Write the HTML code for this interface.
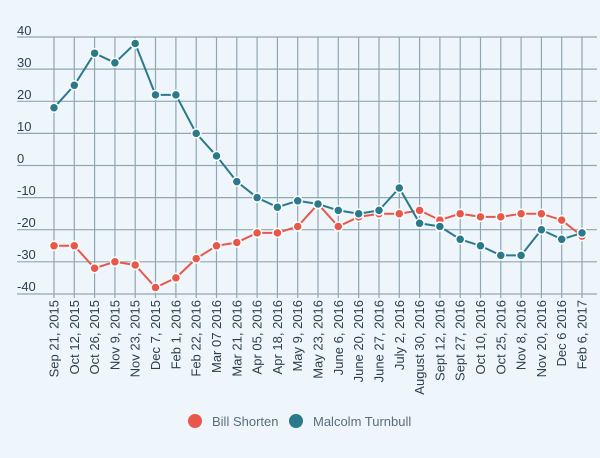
<!DOCTYPE html>
<html><head><style>body{margin:0;background:#eef6fc}svg{display:block;font-family:"Liberation Sans",sans-serif}</style></head>
<body>
<svg width="600" height="458" viewBox="0 0 600 458">
<rect width="600" height="458" fill="#eef6fc"/>
<g stroke="#8fa7b3" stroke-width="1.2">
<line x1="17" x2="597" y1="37" y2="37"/><line x1="17" x2="597" y1="69.1" y2="69.1"/><line x1="17" x2="597" y1="101.3" y2="101.3"/><line x1="17" x2="597" y1="133.4" y2="133.4"/><line x1="17" x2="597" y1="165.5" y2="165.5"/><line x1="17" x2="597" y1="197.6" y2="197.6"/><line x1="17" x2="597" y1="229.7" y2="229.7"/><line x1="17" x2="597" y1="261.8" y2="261.8"/><line x1="17" x2="597" y1="294" y2="294"/>
</g>
<g stroke="#8fa7b3" stroke-width="1.2">
<line x1="54" x2="54" y1="37" y2="298"/><line x1="74.3" x2="74.3" y1="37" y2="298"/><line x1="94.6" x2="94.6" y1="37" y2="298"/><line x1="114.9" x2="114.9" y1="37" y2="298"/><line x1="135.2" x2="135.2" y1="37" y2="298"/><line x1="155.5" x2="155.5" y1="37" y2="298"/><line x1="175.9" x2="175.9" y1="37" y2="298"/><line x1="196.2" x2="196.2" y1="37" y2="298"/><line x1="216.5" x2="216.5" y1="37" y2="298"/><line x1="236.8" x2="236.8" y1="37" y2="298"/><line x1="257.1" x2="257.1" y1="37" y2="298"/><line x1="277.4" x2="277.4" y1="37" y2="298"/><line x1="297.7" x2="297.7" y1="37" y2="298"/><line x1="318" x2="318" y1="37" y2="298"/><line x1="338.3" x2="338.3" y1="37" y2="298"/><line x1="358.7" x2="358.7" y1="37" y2="298"/><line x1="379" x2="379" y1="37" y2="298"/><line x1="399.3" x2="399.3" y1="37" y2="298"/><line x1="419.6" x2="419.6" y1="37" y2="298"/><line x1="439.9" x2="439.9" y1="37" y2="298"/><line x1="460.2" x2="460.2" y1="37" y2="298"/><line x1="480.5" x2="480.5" y1="37" y2="298"/><line x1="500.8" x2="500.8" y1="37" y2="298"/><line x1="521.1" x2="521.1" y1="37" y2="298"/><line x1="541.4" x2="541.4" y1="37" y2="298"/><line x1="561.7" x2="561.7" y1="37" y2="298"/><line x1="582" x2="582" y1="37" y2="298"/>
</g>
<g font-size="13" fill="#2c3e4a">
<text x="17" y="35">40</text><text x="17" y="67">30</text><text x="17" y="99">20</text><text x="17" y="131">10</text><text x="17" y="163">0</text><text x="17" y="195">-10</text><text x="17" y="227">-20</text><text x="17" y="259">-30</text><text x="17" y="291">-40</text>
</g>
<polyline fill="none" stroke="#e8574a" stroke-width="2" points="54,245.8 74.3,245.8 94.6,268.2 114.9,261.8 135.2,265 155.5,287.5 175.9,277.9 196.2,258.6 216.5,245.8 236.8,242.5 257.1,232.9 277.4,232.9 297.7,226.5 318,204 338.3,226.5 358.7,216.9 379,213.7 399.3,213.7 419.6,210.4 439.9,220.1 460.2,213.7 480.5,216.9 500.8,216.9 521.1,213.7 541.4,213.7 561.7,220.1 582,236.1"/>
<g fill="#e8574a" stroke="#fff" stroke-width="1.5">
<circle cx="54" cy="245.8" r="4.5"/><circle cx="74.3" cy="245.8" r="4.5"/><circle cx="94.6" cy="268.2" r="4.5"/><circle cx="114.9" cy="261.8" r="4.5"/><circle cx="135.2" cy="265" r="4.5"/><circle cx="155.5" cy="287.5" r="4.5"/><circle cx="175.9" cy="277.9" r="4.5"/><circle cx="196.2" cy="258.6" r="4.5"/><circle cx="216.5" cy="245.8" r="4.5"/><circle cx="236.8" cy="242.5" r="4.5"/><circle cx="257.1" cy="232.9" r="4.5"/><circle cx="277.4" cy="232.9" r="4.5"/><circle cx="297.7" cy="226.5" r="4.5"/><circle cx="318" cy="204" r="4.5"/><circle cx="338.3" cy="226.5" r="4.5"/><circle cx="358.7" cy="216.9" r="4.5"/><circle cx="379" cy="213.7" r="4.5"/><circle cx="399.3" cy="213.7" r="4.5"/><circle cx="419.6" cy="210.4" r="4.5"/><circle cx="439.9" cy="220.1" r="4.5"/><circle cx="460.2" cy="213.7" r="4.5"/><circle cx="480.5" cy="216.9" r="4.5"/><circle cx="500.8" cy="216.9" r="4.5"/><circle cx="521.1" cy="213.7" r="4.5"/><circle cx="541.4" cy="213.7" r="4.5"/><circle cx="561.7" cy="220.1" r="4.5"/><circle cx="582" cy="236.1" r="4.5"/>
</g>
<polyline fill="none" stroke="#2a7a8c" stroke-width="2" points="54,107.7 74.3,85.3 94.6,53.2 114.9,62.8 135.2,43.5 155.5,94.9 175.9,94.9 196.2,133.4 216.5,155.9 236.8,181.6 257.1,197.6 277.4,207.2 297.7,200.8 318,204 338.3,210.4 358.7,213.7 379,210.4 399.3,188 419.6,223.3 439.9,226.5 460.2,239.3 480.5,245.8 500.8,255.4 521.1,255.4 541.4,229.7 561.7,239.3 582,232.9"/>
<g fill="#2a7a8c" stroke="#fff" stroke-width="1.5">
<circle cx="54" cy="107.7" r="4.5"/><circle cx="74.3" cy="85.3" r="4.5"/><circle cx="94.6" cy="53.2" r="4.5"/><circle cx="114.9" cy="62.8" r="4.5"/><circle cx="135.2" cy="43.5" r="4.5"/><circle cx="155.5" cy="94.9" r="4.5"/><circle cx="175.9" cy="94.9" r="4.5"/><circle cx="196.2" cy="133.4" r="4.5"/><circle cx="216.5" cy="155.9" r="4.5"/><circle cx="236.8" cy="181.6" r="4.5"/><circle cx="257.1" cy="197.6" r="4.5"/><circle cx="277.4" cy="207.2" r="4.5"/><circle cx="297.7" cy="200.8" r="4.5"/><circle cx="318" cy="204" r="4.5"/><circle cx="338.3" cy="210.4" r="4.5"/><circle cx="358.7" cy="213.7" r="4.5"/><circle cx="379" cy="210.4" r="4.5"/><circle cx="399.3" cy="188" r="4.5"/><circle cx="419.6" cy="223.3" r="4.5"/><circle cx="439.9" cy="226.5" r="4.5"/><circle cx="460.2" cy="239.3" r="4.5"/><circle cx="480.5" cy="245.8" r="4.5"/><circle cx="500.8" cy="255.4" r="4.5"/><circle cx="521.1" cy="255.4" r="4.5"/><circle cx="541.4" cy="229.7" r="4.5"/><circle cx="561.7" cy="239.3" r="4.5"/><circle cx="582" cy="232.9" r="4.5"/>
</g>
<g font-size="13" fill="#2c3e4a" text-anchor="end">
<text transform="translate(58.5,300) rotate(-90)">Sep 21, 2015</text>
<text transform="translate(78.8,300) rotate(-90)">Oct 12, 2015</text>
<text transform="translate(99.1,300) rotate(-90)">Oct 26, 2015</text>
<text transform="translate(119.4,300) rotate(-90)">Nov 9, 2015</text>
<text transform="translate(139.7,300) rotate(-90)">Nov 23, 2015</text>
<text transform="translate(160,300) rotate(-90)">Dec 7, 2015</text>
<text transform="translate(180.4,300) rotate(-90)">Feb 1, 2016</text>
<text transform="translate(200.7,300) rotate(-90)">Feb 22, 2016</text>
<text transform="translate(221,300) rotate(-90)">Mar 07 2016</text>
<text transform="translate(241.3,300) rotate(-90)">Mar 21, 2016</text>
<text transform="translate(261.6,300) rotate(-90)">Apr 05, 2016</text>
<text transform="translate(281.9,300) rotate(-90)">Apr 18, 2016</text>
<text transform="translate(302.2,300) rotate(-90)">May 9, 2016</text>
<text transform="translate(322.5,300) rotate(-90)">May 23, 2016</text>
<text transform="translate(342.8,300) rotate(-90)">June 6, 2016</text>
<text transform="translate(363.2,300) rotate(-90)">June 20, 2016</text>
<text transform="translate(383.5,300) rotate(-90)">June 27, 2016</text>
<text transform="translate(403.8,300) rotate(-90)">July 2, 2016</text>
<text transform="translate(424.1,300) rotate(-90)">August 30, 2016</text>
<text transform="translate(444.4,300) rotate(-90)">Sept 12, 2016</text>
<text transform="translate(464.7,300) rotate(-90)">Sept 27, 2016</text>
<text transform="translate(485,300) rotate(-90)">Oct 10, 2016</text>
<text transform="translate(505.3,300) rotate(-90)">Oct 25, 2016</text>
<text transform="translate(525.6,300) rotate(-90)">Nov 8, 2016</text>
<text transform="translate(545.9,300) rotate(-90)">Nov 20, 2016</text>
<text transform="translate(566.2,300) rotate(-90)">Dec 6 2016</text>
<text transform="translate(586.5,300) rotate(-90)">Feb 6, 2017</text>
</g>
<circle cx="195" cy="421" r="7" fill="#e8574a"/>
<text x="212" y="426" font-size="13" fill="#5a6e7a">Bill Shorten</text>
<circle cx="296" cy="421" r="7" fill="#2a7a8c"/>
<text x="313" y="426" font-size="13" fill="#5a6e7a">Malcolm Turnbull</text>
</svg>
</body></html>
